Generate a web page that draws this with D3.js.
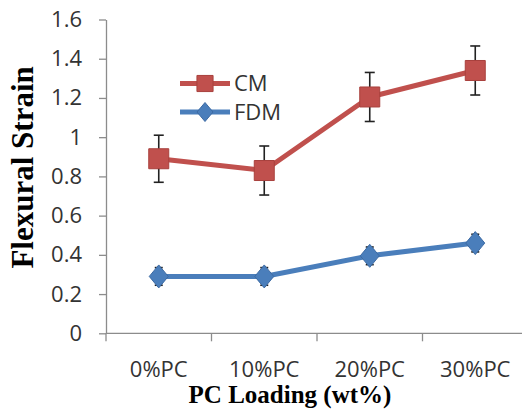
<!DOCTYPE html>
<html>
<head>
<meta charset="utf-8">
<script src="https://cdn.jsdelivr.net/npm/d3@7"></script>
<style>
  body { margin: 0; background: #fff; }
</style>
</head>
<body>
<div id="chart"></div>
<script>
// data
const categories = ['0%PC', '10%PC', '20%PC', '30%PC'];
const cmValues = [0.89, 0.83, 1.205, 1.34];
const cmErrors = [0.12, 0.125, 0.125, 0.125];
const fdmValues = [0.29, 0.29, 0.395, 0.46];
const fdmErrors = [0.045, 0.045, 0.045, 0.045];
const yTicks = [0, 0.2, 0.4, 0.6, 0.8, 1, 1.2, 1.4, 1.6];

const width = 522, height = 414;
const margin = { top: 19.5, right: -6, bottom: 80.7, left: 106 };

const svg = d3.select('#chart')
    .append('svg')
    .attr('width', width)
    .attr('height', height);

const x = d3.scaleBand().domain(categories)
    .range([margin.left, width - margin.right])
    .padding(0);

const y = d3.scaleLinear().domain([0, 1.6])
    .range([height - margin.bottom, margin.top]);

const axisColor = '#8c8c8c';
const labelFont = '"Open Sans", sans-serif';

// tall diamond like the excel marker
const tallDiamond = (w, h) => ({
    draw(context) {
        context.moveTo(0, -h);
        context.lineTo(w, 0);
        context.lineTo(0, h);
        context.lineTo(-w, 0);
        context.closePath();
    }
});

//y axis
const yAxis = svg.append('g')
    .attr('transform', `translate(${margin.left},0)`)
    .call(d3.axisLeft(y).tickValues(yTicks).tickSize(7).tickSizeOuter(0)
        .tickFormat(d => '' + d));
yAxis.select('.domain').attr('stroke', axisColor).attr('stroke-width', 1.3);
yAxis.selectAll('.tick line').attr('stroke', axisColor).attr('stroke-width', 1.3);
yAxis.selectAll('.tick text')
    .attr('x', -24)
    .attr('fill', '#333')
    .style('font-family', labelFont)
    .style('font-size', '22px');

//x axis, ticks sit between categories
const xAxisG = svg.append('g')
    .attr('transform', `translate(0,${y(0)})`);
xAxisG.append('line')
    .attr('x1', margin.left).attr('x2', width)
    .attr('stroke', axisColor).attr('stroke-width', 1.3);
xAxisG.selectAll('.xtick')
    .data(categories)
    .join('line')
    .attr('class', 'xtick')
    .attr('x1', d => x(d)).attr('x2', d => x(d))
    .attr('y1', 0).attr('y2', 8)
    .attr('stroke', axisColor).attr('stroke-width', 1.3);
xAxisG.selectAll('.xlabel')
    .data(categories)
    .join('text')
    .attr('class', 'xlabel')
    .attr('x', d => x(d) + x.bandwidth() / 2)
    .attr('y', 44)
    .attr('text-anchor', 'middle')
    .attr('fill', '#333')
    .style('font-family', labelFont)
    .style('font-size', '22px')
    .text(d => d);

//titles
svg.append('text')
    .attr('transform', `translate(33,${(y(0) + y(1.6)) / 2 - 9}) rotate(-90)`)
    .attr('text-anchor', 'middle')
    .style('font-family', '"Liberation Serif", "Times New Roman", serif')
    .style('font-weight', 'bold')
    .style('font-size', '31px')
    .text('Flexural Strain');

svg.append('text')
    .attr('x', 290)
    .attr('y', 403)
    .attr('text-anchor', 'middle')
    .style('font-family', '"Liberation Serif", "Times New Roman", serif')
    .style('font-weight', 'bold')
    .style('font-size', '25px')
    .text('PC Loading (wt%)');

const cx = d => x(d) + x.bandwidth() / 2;

const series = [
    { name: 'CM', values: cmValues, errors: cmErrors, color: '#c0504d', stroke: '#a8403d',
      marker: d3.symbol().type(d3.symbolSquare).size(400), legendMarker: d3.symbol().type(d3.symbolSquare).size(260), cap: 5 },
    { name: 'FDM', values: fdmValues, errors: fdmErrors, color: '#4a7ebb', stroke: '#3c6aa3',
      marker: d3.symbol().type(tallDiamond(9.5, 11.5)), legendMarker: d3.symbol().type(tallDiamond(8, 9.5)), cap: 4 }
];

const line = d3.line()
    .x((d, i) => cx(categories[i]))
    .y(d => y(d));

series.forEach(s => {
    const g = svg.append('g');
    //error bars
    const eb = g.selectAll('.err')
        .data(s.values)
        .join('g')
        .attr('class', 'err')
        .attr('stroke', '#222')
        .attr('stroke-width', 1.6);
    eb.append('line')
        .attr('x1', (d, i) => cx(categories[i])).attr('x2', (d, i) => cx(categories[i]))
        .attr('y1', (d, i) => y(d + s.errors[i])).attr('y2', (d, i) => y(d - s.errors[i]));
    eb.append('line')
        .attr('x1', (d, i) => cx(categories[i]) - s.cap).attr('x2', (d, i) => cx(categories[i]) + s.cap)
        .attr('y1', (d, i) => y(d + s.errors[i])).attr('y2', (d, i) => y(d + s.errors[i]));
    eb.append('line')
        .attr('x1', (d, i) => cx(categories[i]) - s.cap).attr('x2', (d, i) => cx(categories[i]) + s.cap)
        .attr('y1', (d, i) => y(d - s.errors[i])).attr('y2', (d, i) => y(d - s.errors[i]));

    g.append('path')
        .datum(s.values)
        .attr('fill', 'none')
        .attr('stroke', s.color)
        .attr('stroke-width', 5)
        .attr('stroke-linejoin', 'round')
        .attr('d', line);

    g.selectAll('.pt')
        .data(s.values)
        .join('path')
        .attr('class', 'pt')
        .attr('transform', (d, i) => `translate(${cx(categories[i])},${y(d)})`)
        .attr('fill', s.color)
        .attr('stroke', s.stroke)
        .attr('stroke-width', 1)
        .attr('d', s.marker);
});

//legend
const legend = svg.append('g');
series.forEach((s, i) => {
    const ly = 83.5 + i * 28.5;
    legend.append('line')
        .attr('x1', 180).attr('x2', 230)
        .attr('y1', ly).attr('y2', ly)
        .attr('stroke', s.color).attr('stroke-width', 5);
    legend.append('path')
        .attr('transform', `translate(205,${ly})`)
        .attr('fill', s.color)
        .attr('stroke', s.stroke)
        .attr('d', s.legendMarker);
    legend.append('text')
        .attr('x', 234)
        .attr('y', ly)
        .attr('dy', '0.35em')
        .attr('fill', '#333')
        .style('font-family', labelFont)
        .style('font-size', '22px')
        .text(s.name);
});
</script>
</body>
</html>
